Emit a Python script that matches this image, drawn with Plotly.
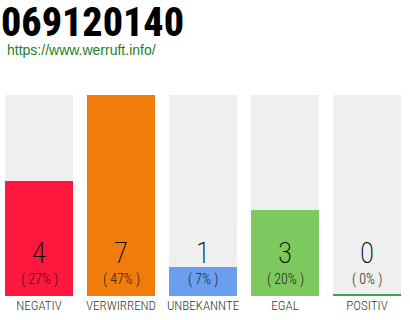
import plotly.graph_objects as go

categories = ["NEGATIV", "VERWIRREND", "UNBEKANNTE", "EGAL", "POSITIV"]
counts = [4, 7, 1, 3, 0]
percents = [27, 47, 7, 20, 0]
colors = ["#FF173D", "#F07D0B", "#6A9EEF", "#7DC95E", "#2DA84A"]
title_text = "069120140"
url_text = "https://www.werruft.info/"

W, H = 410, 320
T, B = 95, 24
PH = H - T - B
COND = "Roboto Condensed"

xs = list(range(len(categories)))
ymax = max(counts)

fig = go.Figure()
fig.add_trace(go.Bar(x=xs, y=[ymax] * len(xs), marker=dict(color="#EFEFEF", line=dict(width=0)),
                     width=0.83, hoverinfo="skip", showlegend=False))
fig.add_trace(go.Bar(x=xs, y=counts, marker=dict(color=colors, line=dict(width=0)),
                     width=0.83, hoverinfo="skip", showlegend=False))
# zero-value marker line
zero_x = [x for x, c in zip(xs, counts) if c == 0]
zero_c = [col for col, c in zip(colors, counts) if c == 0]
fig.add_trace(go.Bar(x=zero_x, y=[ymax * 0.009] * len(zero_x), marker=dict(color=zero_c, line=dict(width=0)),
                     width=0.83, hoverinfo="skip", showlegend=False))

ann = []
for x, c, p in zip(xs, counts, percents):
    ann.append(dict(x=x, y=1.5, xref="x", yref="y", text=str(c), showarrow=False,
                    font=dict(family=COND, size=29, color="#000000", weight=200),
                    xanchor="center", yanchor="middle"))
    ann.append(dict(x=x, y=0.56, xref="x", yref="y", text=f"( {p}% )", showarrow=False,
                    font=dict(family=COND, size=14, color="#222222", weight=300),
                    xanchor="center", yanchor="middle"))

def py(pix):
    return (H - B - pix) / PH

ann.append(dict(x=-0.003, y=py(22.5), xref="paper", yref="paper", text=title_text, showarrow=False,
                font=dict(family=COND, size=40, color="#000000", weight=800),
                xanchor="left", yanchor="middle"))
ann.append(dict(x=5 / W, y=py(50), xref="paper", yref="paper", text=url_text, showarrow=False,
                font=dict(family="Liberation Sans", size=14, color="#1E7F1E"),
                xanchor="left", yanchor="middle"))

fig.update_layout(
    width=W, height=H,
    margin=dict(l=0, r=0, t=T, b=B, autoexpand=False),
    paper_bgcolor="white", plot_bgcolor="white",
    barmode="overlay", bargap=0,
    annotations=ann,
    xaxis=dict(range=[-39 / 82, 5 - 39 / 82], tickvals=xs, ticktext=categories,
               showgrid=False, zeroline=False, showline=False, ticks="", tickangle=0,
               automargin=False,
               tickfont=dict(family=COND, size=13, color="#333333", weight=300),
               fixedrange=True),
    yaxis=dict(range=[0, ymax], visible=False, fixedrange=True),
)
fig.write_html("out.html")
